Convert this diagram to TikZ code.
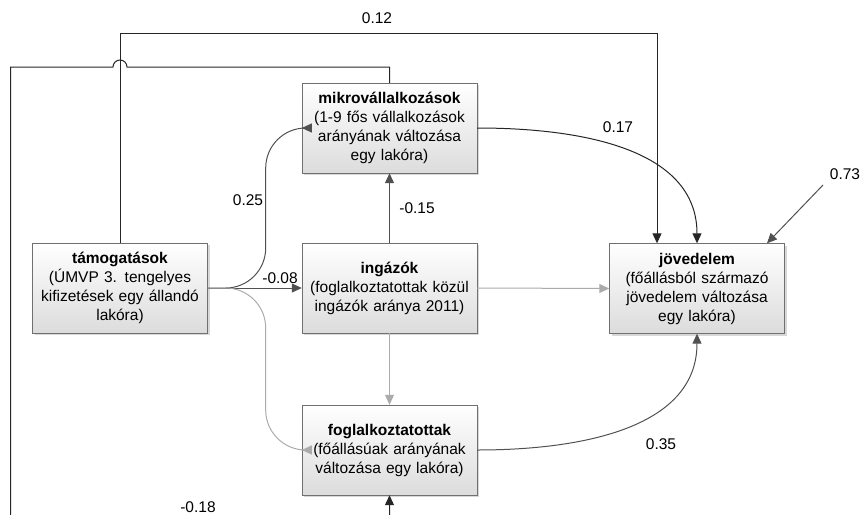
\documentclass[tikz,border=0pt]{standalone}
\usepackage{fontspec}
\setmainfont{Liberation Sans}
\usepackage{xcolor}
\usetikzlibrary{arrows.meta,shadows}
\definecolor{boxline}{HTML}{707070}
\definecolor{boxshade}{HTML}{DCDCDC}
\definecolor{darkline}{HTML}{262626}
\definecolor{midline}{HTML}{505050}
\definecolor{lightline}{HTML}{ABABAB}

\tikzset{
  varbox/.style={draw=boxline, top color=white, bottom color=boxshade,
    drop shadow={shadow xshift=2pt, shadow yshift=-2pt, fill=black!30},
    minimum width=175pt, minimum height=90pt, text width=170pt,
    align=center, inner sep=0pt, font=\fontsize{15.5}{19}\selectfont},
  coef/.style={inner sep=1pt, font=\fontsize{15.5}{19}\selectfont},
  darkpath/.style={draw=darkline, line width=1pt, -{Triangle[length=10pt,width=9pt]}},
  midpath/.style={draw=midline, line width=1pt, -{Triangle[length=10pt,width=9pt]}},
  lightpath/.style={draw=lightline, line width=1pt, -{Triangle[length=10pt,width=9pt]}}
}

\begin{document}
\begin{tikzpicture}[x=1pt, y=-1pt]
  \useasboundingbox (0,0) rectangle (861,514);

  % boxes
  \node[varbox] (tam) at (120,288) {\textbf{támogatások}\\(ÚMVP 3. tengelyes\\kifizetések egy állandó\\lakóra)};
  \node[varbox] (mikro) at (389.5,128) {\textbf{mikrovállalkozások}\\(1-9 fős vállalkozások\\arányának változása\\egy lakóra)};
  \node[varbox] (ing) at (389.5,288) {\textbf{ingázók}\\(foglalkoztatottak közül\\ingázók aránya 2011)};
  \node[varbox] (fog) at (389.5,450) {\textbf{foglalkoztatottak}\\(főállásúak arányának\\változása egy lakóra)};
  \node[varbox] (jov) at (697,288.5) {\textbf{jövedelem}\\(főállásból származó\\jövedelem változása\\egy lakóra)};

  % helper points
  \coordinate (top12) at (657,33);
  \coordinate (hopR) at (127,67);
  \coordinate (loopTL) at (10.5,67);
  \coordinate (loopBL) at (10.5,540);
  \coordinate (err) at (823,185);

  % connectors
  \draw[darkpath] (tam.north) |- (top12) -- (jov.north -| top12);
  \draw[darkpath] (mikro.north) |- (hopR) arc[start angle=0, end angle=180, radius=7pt]
    -- (loopTL) -- (loopBL) -| (fog.south);
  \draw[midpath, rounded corners=40pt] (tam.east) -- ++(58,0) |- (mikro.west);
  \draw[midpath] (tam.east) -- (ing.west);
  \draw[lightpath, rounded corners=40pt] (tam.east) -- ++(58,0) |- (fog.west);
  \draw[midpath] (ing.north) -- (mikro.south);
  \draw[lightpath] (ing.south) -- (fog.north);
  \draw[lightpath] (ing.east) -- (jov.west);
  \draw[darkpath] (mikro.east) to[out=0, in=90] (jov.north);
  \draw[midpath] (fog.east) to[out=0, in=-90] (jov.south);
  \draw[midpath] (err) -- (jov.north -| 767,0);

  % coefficients
  \node[coef] (c12) at (377,18) {0.12};
  \node[coef] (c25) at (248,200) {0.25};
  \node[coef] (c08) at (280,278) {-0.08};
  \node[coef] (c15) at (417,208) {-0.15};
  \node[coef] (c17) at (618,127) {0.17};
  \node[coef] (c73) at (845,174) {0.73};
  \node[coef] (c35) at (661,444) {0.35};
  \node[coef] (c18) at (198,507) {-0.18};
\end{tikzpicture}
\end{document}
